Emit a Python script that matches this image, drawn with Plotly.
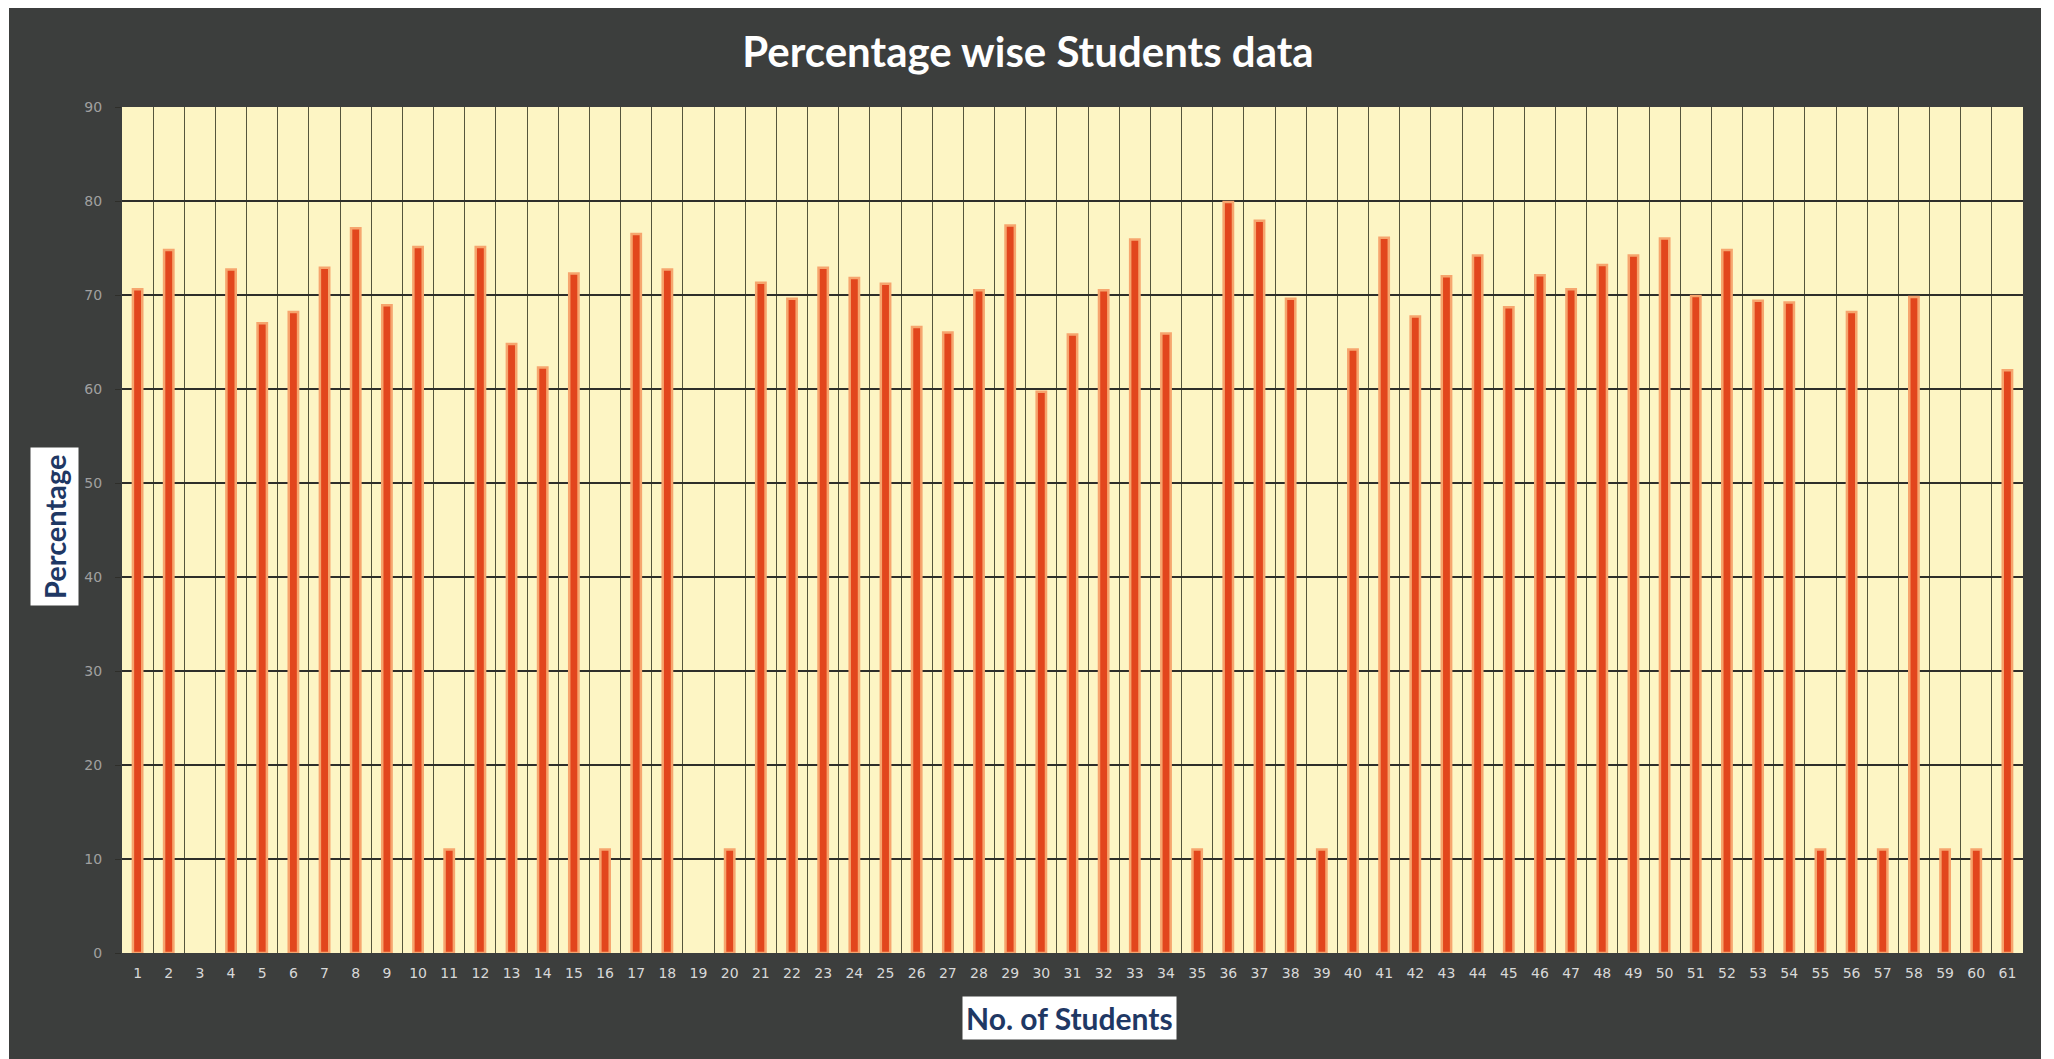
import plotly.graph_objects as go

students = list(range(1, 62))
percentages = [
    70.6, 74.8, None, 72.7, 67.0, 68.2, 72.9, 77.1, 68.9, 75.1,
    11.0, 75.1, 64.8, 62.3, 72.3, 11.0, 76.5, 72.7, None, 11.0,
    71.3, 69.6, 72.9, 71.8, 71.2, 66.6, 66.0, 70.5, 77.4, 59.7,
    65.8, 70.5, 75.9, 65.9, 11.0, 79.9, 77.9, 69.6, 11.0, 64.2,
    76.1, 67.7, 72.0, 74.2, 68.7, 72.1, 70.6, 73.2, 74.2, 76.0,
    69.9, 74.8, 69.4, 69.2, 11.0, 68.2, 11.0, 69.8, 11.0, 11.0,
    62.0,
]
y_ticks = list(range(0, 91, 10))

title_text = "Percentage wise Students data"
x_title = "No. of Students"
y_title = "Percentage"

W, H = 2046, 1051
L, R, T, B = 114, 31, 99, 106
PW, PH = W - L - R, H - T - B


def px(x):
    return (x - L) / PW


def py(y):
    return (H - B - y) / PH


fig = go.Figure()
fig.add_trace(go.Bar(
    x=students, y=percentages, width=0.3,
    marker=dict(color="#e2461d", line=dict(color="#f6a56e", width=2.5)),
))

fig.update_layout(
    width=W, height=H,
    paper_bgcolor="white",
    plot_bgcolor="#fdf5c4",
    margin=dict(l=L, r=R, t=T, b=B),
    showlegend=False,
    title=dict(text="<b>" + title_text + "</b>", x=1020 / W, xanchor="center",
               y=1 - 44 / H, yanchor="middle",
               font=dict(family="Lato", size=42, color="white")),
    shapes=[
        dict(type="rect", xref="paper", yref="paper",
             x0=px(1), x1=px(2033), y0=py(H), y1=py(0),
             fillcolor="#3c3e3d", line=dict(width=0), layer="below"),
        dict(type="rect", xref="paper", yref="paper",
             x0=0, x1=1, y0=0, y1=1,
             fillcolor="#fdf5c4", line=dict(width=0), layer="below"),
    ],
    annotations=[
        dict(text="<b>" + x_title + "</b>", xref="paper", yref="paper",
             x=px(1061), y=py(1010),
             xanchor="center", yanchor="middle", showarrow=False,
             bgcolor="white", borderpad=3,
             font=dict(family="Lato", size=30, color="#1f3864")),
        dict(text="<b>" + y_title + "</b>", xref="paper", yref="paper",
             x=px(46), y=py(519),
             xanchor="center", yanchor="middle", showarrow=False,
             textangle=-90, bgcolor="white", borderpad=6,
             font=dict(family="Lato", size=29, color="#1f3864")),
    ],
)

fig.update_xaxes(
    range=[0.5, 61.5], tickmode="array", tickvals=students,
    ticktext=[str(s) for s in students],
    showgrid=False, zeroline=False, showline=False, ticks="",
    ticklabelstandoff=10,
    tickfont=dict(family="DejaVu Sans", size=14, color="#d8d8d8"),
    minor=dict(tickmode="linear", tick0=0.5, dtick=1, showgrid=True,
               gridcolor="#55553c", gridwidth=1, ticks=""),
)
fig.update_yaxes(
    range=[0, 90], tickmode="array", tickvals=y_ticks,
    showgrid=True, gridcolor="#2e2e2a", gridwidth=1.5,
    zeroline=False, showline=False, ticks="outside", ticklen=6,
    tickcolor="#2e2e2a", ticklabelstandoff=10,
    tickfont=dict(family="DejaVu Sans", size=14, color="#a0a0a0"),
)

fig.write_html("out.html")
